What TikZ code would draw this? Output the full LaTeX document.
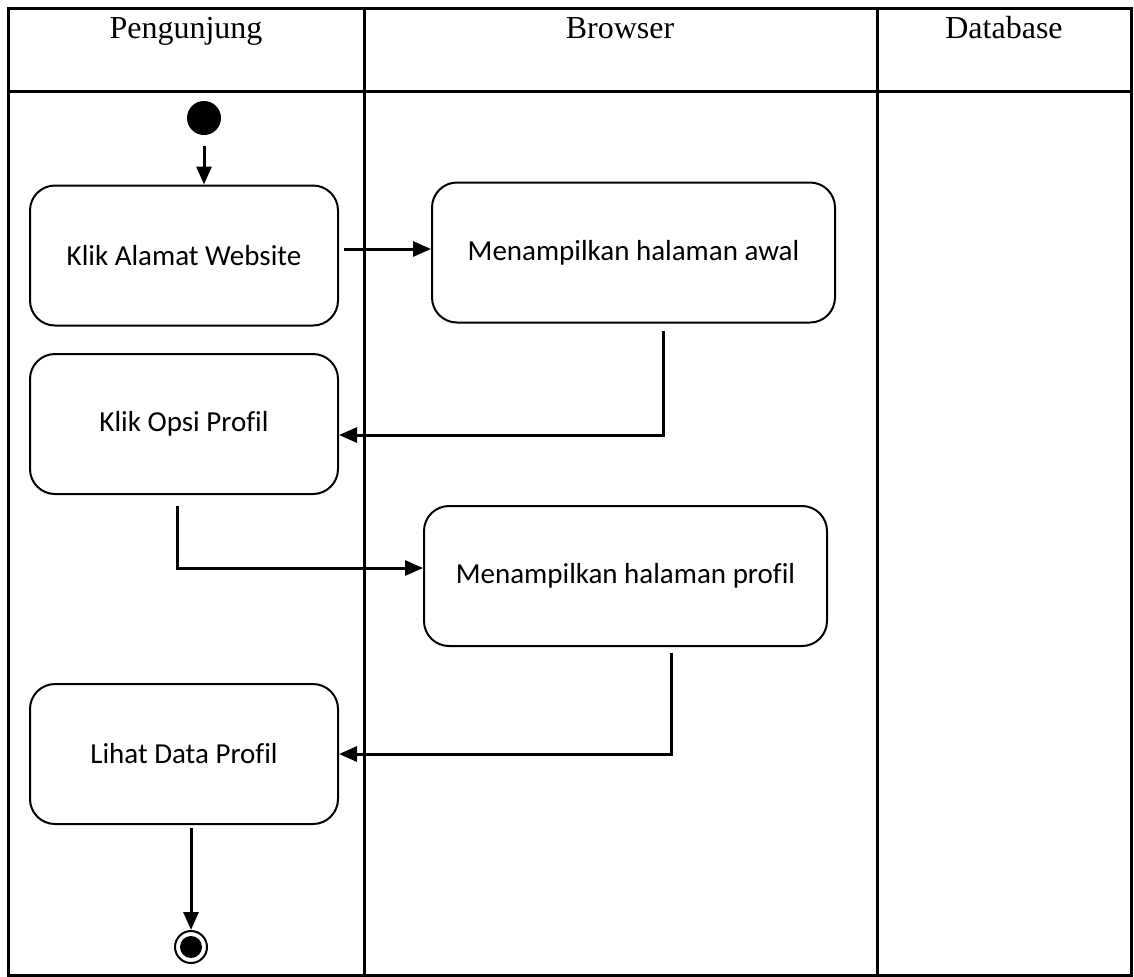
\documentclass[tikz,border=0pt]{standalone}
\usepackage{fontspec}
\setmainfont{Liberation Serif}
\newfontfamily\boxfont[Ligatures=CommonOff]{Carlito}
\usetikzlibrary{arrows.meta,positioning,shapes}
\tikzset{lane/.style={line width=1.5pt},
         lanehead/.style={anchor=base, font=\fontsize{16}{19}\selectfont},
         act/.style={draw, line width=1pt, rounded corners=12.5pt, inner sep=0pt,
                     minimum width=154pt, minimum height=70pt,
                     font=\boxfont\fontsize{14.5}{17}\selectfont},
         wideact/.style={act, minimum width=201.5pt},
         startdot/.style={circle, fill, inner sep=0pt, minimum size=17pt},
         enddot/.style={circle, draw, line width=1pt, inner sep=0pt, minimum size=16pt,
                        path picture={\fill (path picture bounding box.center) circle (5.5pt);}},
         edge/.style={-{Triangle[length=9pt,width=7.5pt]}, line width=1.5pt}
}
\begin{document}
\begin{tikzpicture}[x=0.5pt, y=-0.5pt]
    \useasboundingbox (0,0) rectangle (1134,976);
    \draw[lane] (8,8) rectangle (1131,975);
    \draw[lane] (364,8) -- (364,975);
    \draw[lane] (877,8) -- (877,975);
    \draw[lane] (8,91) -- (1131,91);
    \node[lanehead] (pengunjung) at (186,38) {Pengunjung};
    \node[lanehead] (browser)    at (620,38) {Browser};
    \node[lanehead] (database)   at (1004,38) {Database};

    \node[startdot] (start)  at (204,118)     {};
    \node[act]      (klik)   at (184,255.5)   {Klik Alamat Website};
    \node[wideact]  (awal)   at (633.5,252.5) {Menampilkan halaman awal};
    \node[act]      (opsi)   at (184,424)     {Klik Opsi Profil};
    \node[wideact]  (profil) at (625.5,576)   {Menampilkan halaman profil};
    \node[act]      (lihat)  at (184,754)     {Lihat Data Profil};
    \node[enddot]   (stop)   at (191,947)     {};

    \draw[edge, shorten <=5.5pt] (start) -- (start |- klik.north);
    \draw[edge, shorten <=2.5pt] ([yshift=3.25pt]klik.east) -- ([yshift=3.25pt]klik.east -| awal.west);
    \draw[edge, shorten <=3.5pt] ([xshift=14.75pt]awal.south) |- ([yshift=-5.5pt]opsi.east);
    \draw[edge, shorten <=5.5pt] ([xshift=-3.5pt]opsi.south) |- ([yshift=4pt]profil.west);
    \draw[edge, shorten <=3pt] ([xshift=22.75pt]profil.south) |- (lihat.east);
    \draw[edge, shorten <=1.5pt] (lihat.south -| stop) -- (stop);
\end{tikzpicture}
\end{document}
